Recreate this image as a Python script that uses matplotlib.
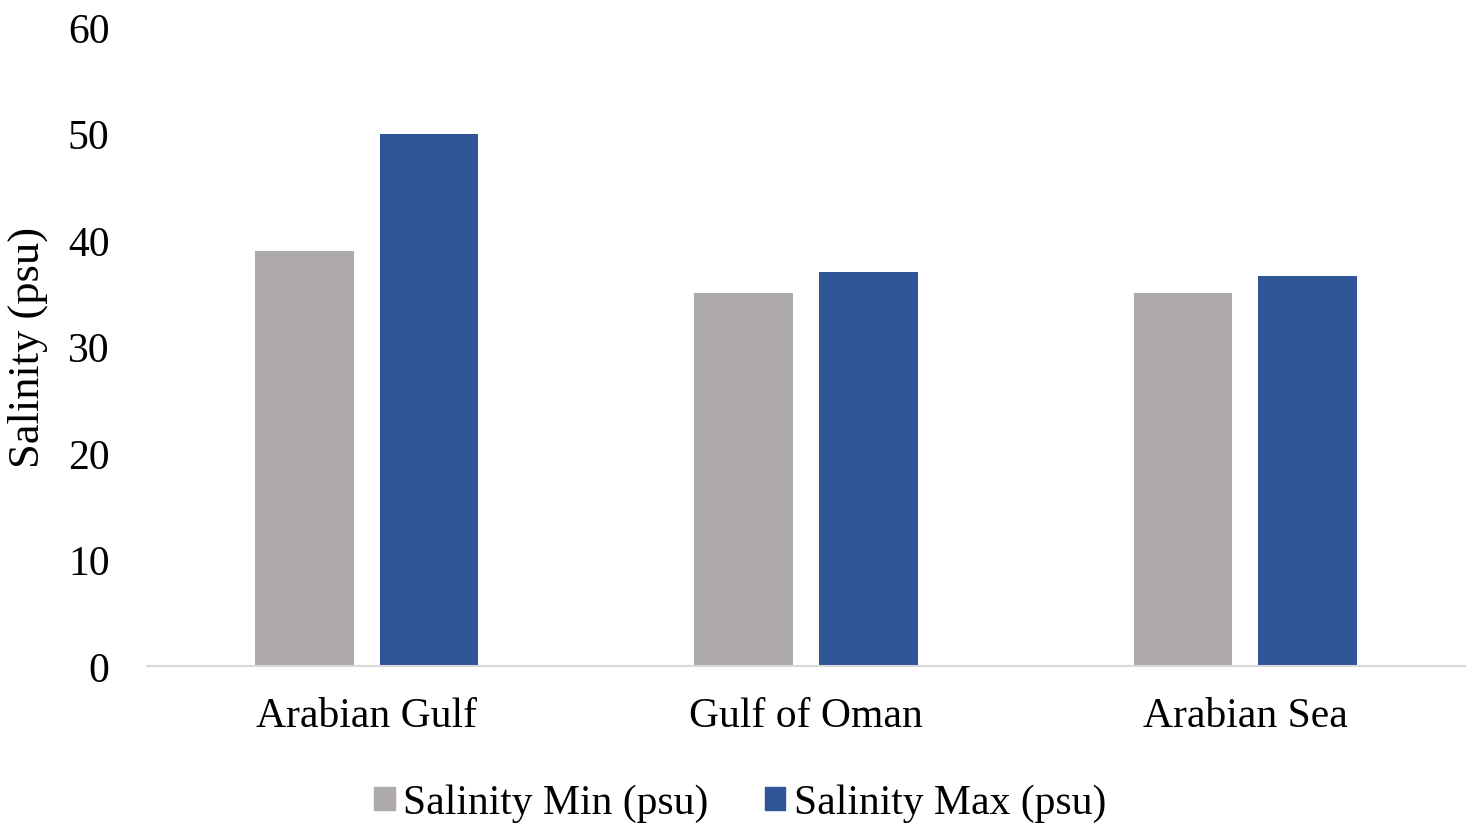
import numpy as np
import matplotlib.pyplot as plt
from matplotlib.patches import Patch

regions = ["Arabian Gulf", "Gulf of Oman", "Arabian Sea"]
salinity_min = [39, 35, 35]
salinity_max = [50, 37, 36.6]
series_labels = ["Salinity Min (psu)", "Salinity Max (psu)"]
yticks = [0, 10, 20, 30, 40, 50, 60]

GRAY = "#AEAAAA"
BLUE = "#2F5597"

plt.rcParams["font.family"] = ["Liberation Serif", "DejaVu Serif"]

fig = plt.figure(figsize=(14.77, 8.37), dpi=100)
ax = fig.add_axes([147 / 1477, 1 - 667 / 837, 1318 / 1477, 639 / 837])

x = np.arange(len(regions))
w = 0.225
ax.bar(x - 0.142, salinity_min, width=w, color=GRAY)
ax.bar(x + 0.142, salinity_max, width=w, color=BLUE)

ax.set_xlim(-0.5, len(regions) - 0.5)
ax.set_ylim(0, 60)
ax.set_yticks(yticks)
ax.set_xticks(x)
ax.set_xticklabels(regions)
ax.tick_params(axis="both", length=0, labelsize=30, colors="black")
ax.tick_params(axis="y", pad=27)
ax.tick_params(axis="x", pad=22)
ax.set_ylabel("Salinity (psu)", fontsize=32, labelpad=14)

for s in ["top", "right", "left"]:
    ax.spines[s].set_visible(False)
ax.spines["bottom"].set_color("#D9D9D9")
ax.spines["bottom"].set_linewidth(1.5)

handles = [Patch(color=GRAY), Patch(color=BLUE)]
fig.legend(handles, series_labels, loc="center", bbox_to_anchor=(740 / 1477, 1 - 804 / 837),
           ncol=2, frameon=False, fontsize=30, handlelength=0.5, handleheight=0.5,
           handletextpad=0.2, columnspacing=1.35)

fig.savefig("out.png", dpi=100)
